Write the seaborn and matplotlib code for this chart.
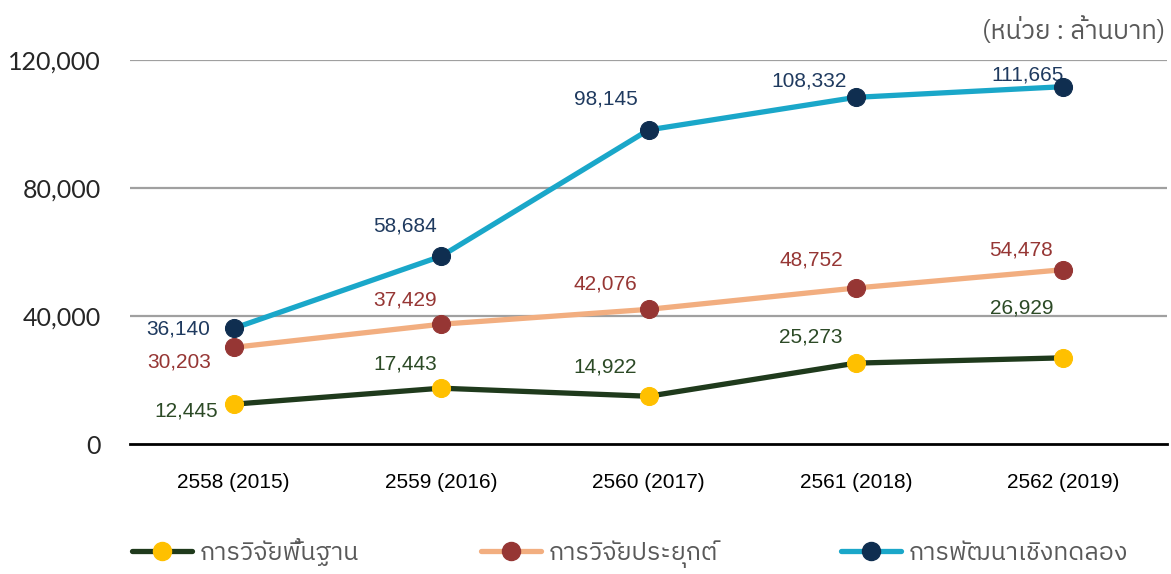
import pandas as pd
import matplotlib
matplotlib.use("Agg")
import matplotlib.pyplot as plt
from matplotlib.lines import Line2D
from matplotlib import font_manager
from matplotlib.ft2font import FT2Font
import seaborn as sns

# Data (million baht)
YEARS = ['2558 (2015)', '2559 (2016)', '2560 (2017)', '2561 (2018)', '2562 (2019)']
SERIES = ['การวิจัยพื้นฐาน', 'การวิจัยประยุกต์', 'การพัฒนาเชิงทดลอง']
BASIC = [12445, 17443, 14922, 25273, 26929]
APPLIED = [30203, 37429, 42076, 48752, 54478]
EXPERIMENTAL = [36140, 58684, 98145, 108332, 111665]
UNIT_LABEL = '(หน่วย : ล้านบาท)'

# Styles
LINE_COLORS = ['#1F3A1C', '#F2AE80', '#1AA7C9']
MARKER_COLORS = ['#FFC000', '#963634', '#0F2E50']
LABEL_COLORS = ['#2C4A26', '#963634', '#1F3A5F']
# label offsets in pixels relative to each point
LABEL_OFFSETS = [
    [(-48, -7), (-36, 24), (-43, 29), (-45, 26), (-42, 50)],
    [(-55, -15), (-36, 24), (-43, 25), (-45, 28), (-42, 20)],
    [(-56, -1), (-36, 30), (-43, 31), (-47, 16), (-36, 12)],
]


def find_thai_font():
    """Return a family name with Thai glyphs, if one is installed."""
    candidates = []
    for f in font_manager.fontManager.ttflist:
        try:
            if 0x0E01 in FT2Font(f.fname).get_charmap():
                candidates.append(f.name)
        except Exception:
            continue
    for name in candidates:
        if 'Thai' in name:
            return name
    return candidates[0] if candidates else 'DejaVu Sans'


sns.set_theme(style='white')
thai_font = find_thai_font()
plt.rcParams['font.family'] = ['Liberation Sans', thai_font, 'DejaVu Sans']

fig = plt.figure(figsize=(11.71, 5.74), dpi=100)
ax = fig.add_axes([130 / 1171, 1 - 444 / 574, (1167 - 130) / 1171, (444 - 60) / 574])

x = list(range(len(YEARS)))
values = [BASIC, APPLIED, EXPERIMENTAL]

for i, vals in enumerate(values):
    df = pd.DataFrame({'x': x, 'value': vals})
    sns.lineplot(data=df, x='x', y='value', ax=ax, color=LINE_COLORS[i],
                 linewidth=3.8, marker='o', markersize=13,
                 markerfacecolor=MARKER_COLORS[i], markeredgecolor=MARKER_COLORS[i],
                 zorder=3 + i)
    for xi, v, off in zip(x, vals, LABEL_OFFSETS[i]):
        ax.annotate(f'{v:,}', (xi, v), xytext=off, textcoords='offset pixels',
                    ha='center', va='center', fontsize=15, color=LABEL_COLORS[i])

ax.set_xlim(-0.5, len(YEARS) - 0.5)
ax.set_ylim(0, 120000)

# y axis
ax.set_yticks([0, 40000, 80000, 120000])
ax.set_yticklabels([f'{t:,}' for t in [0, 40000, 80000, 120000]],
                   fontfamily='Lato', fontsize=18, color='#262626')
ax.tick_params(axis='y', length=0, pad=21)
for t in [40000, 80000, 120000]:
    ax.axhline(t, color='#A0A0A0', linewidth=1.6, zorder=1)

# x axis: ticks at category boundaries, labels at centres
ax.set_xticks([i - 0.5 for i in range(len(YEARS) + 1)])
ax.set_xticklabels([])
ax.set_xticks(x, minor=True)
ax.set_xticklabels(YEARS, minor=True, fontsize=15, color='black')
ax.tick_params(axis='x', which='major', direction='out', length=7, width=2, color='black')
ax.tick_params(axis='x', which='minor', length=0, pad=21)
ax.set_xlabel('')
ax.set_ylabel('')

for side in ['left', 'right', 'top']:
    ax.spines[side].set_visible(False)
ax.spines['bottom'].set_color('black')
ax.spines['bottom'].set_linewidth(2)
ax.grid(False)

fig.text(1165 / 1171, 1 - 30 / 574, UNIT_LABEL, ha='right', va='center',
         fontsize=18.5, color='#595959', family=[thai_font, 'DejaVu Sans'])

handles = [Line2D([], [], color=LINE_COLORS[i], linewidth=3.8, marker='o', markersize=13,
                  markerfacecolor=MARKER_COLORS[i], markeredgecolor=MARKER_COLORS[i])
           for i in range(3)]
leg = fig.legend(handles, SERIES, loc='center', bbox_to_anchor=(0.538, 1 - 553 / 574),
                 ncol=3, frameon=False, handlelength=2.4, handletextpad=0.3,
                 columnspacing=4.9, prop={'family': [thai_font, 'DejaVu Sans'], 'size': 18})
for t in leg.get_texts():
    t.set_color('#595959')

fig.savefig('out.png', dpi=100)
